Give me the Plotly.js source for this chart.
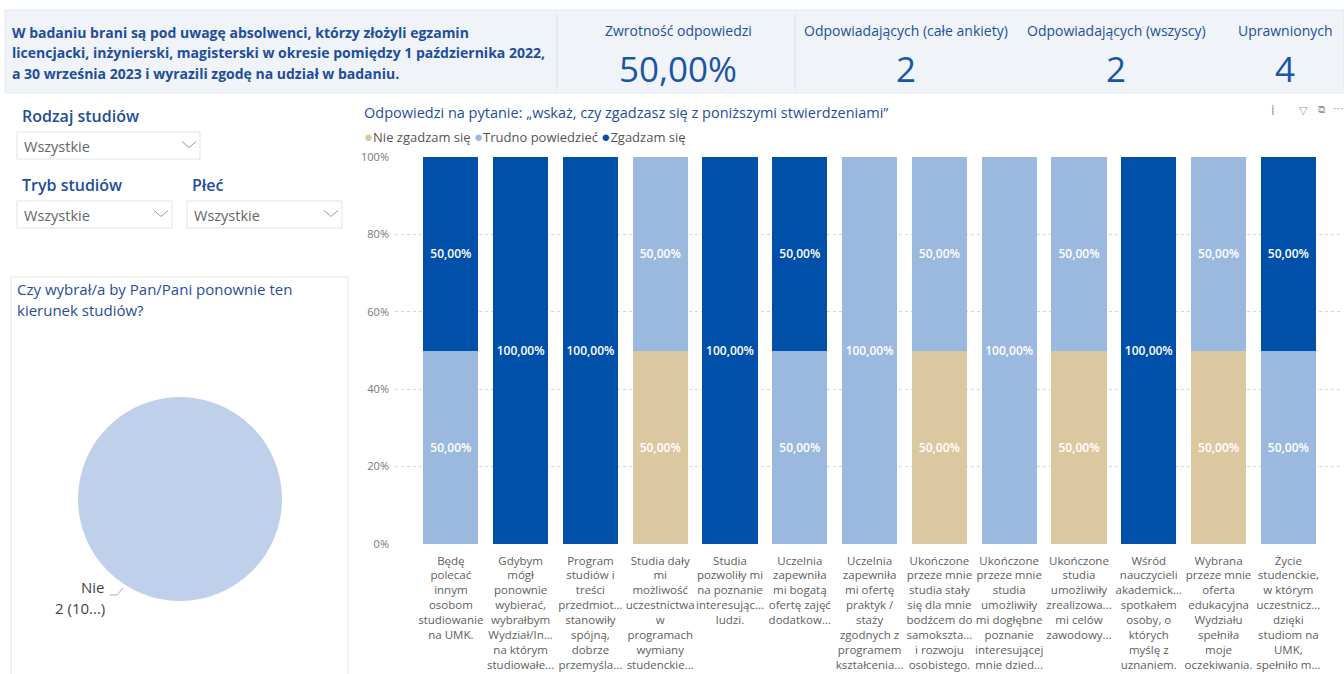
<!DOCTYPE html>
<html><head><meta charset="utf-8">
<script src="https://cdn.plot.ly/plotly-3.0.1.min.js"></script>
<style>html,body{margin:0;padding:0;background:#fff;overflow:hidden}#chart{width:1344px;height:674px;}</style>
</head><body><div id="chart"></div>
<script>
// ---- data ----
const categories = [
 "Będę\npolecać\ninnym\nosobom\nstudiowanie\nna UMK.",
 "Gdybym\nmógł\nponownie\nwybierać,\nwybrałbym\nWydział/In...\nna którym\nstudiowałe...",
 "Program\nstudiów i\ntreści\nprzedmiot...\nstanowiły\nspójną,\ndobrze\nprzemyśla...",
 "Studia dały\nmi\nmożliwość\nuczestnictwa\nw\nprogramach\nwymiany\nstudenckie...",
 "Studia\npozwoliły mi\nna poznanie\ninteresując...\nludzi.",
 "Uczelnia\nzapewniła\nmi bogatą\nofertę zajęć\ndodatkow...",
 "Uczelnia\nzapewniła\nmi ofertę\npraktyk /\nstaży\nzgodnych z\nprogramem\nkształcenia...",
 "Ukończone\nprzeze mnie\nstudia stały\nsię dla mnie\nbodźcem do\nsamokszta...\ni rozwoju\nosobistego.",
 "Ukończone\nprzeze mnie\nstudia\numożliwiły\nmi dogłębne\npoznanie\ninteresującej\nmnie dzied...",
 "Ukończone\nstudia\numożliwiły\nzrealizowa...\nmi celów\nzawodowy...",
 "Wśród\nnauczycieli\nakademick...\nspotkałem\nosoby, o\nktórych\nmyślę z\nuznaniem.",
 "Wybrana\nprzeze mnie\noferta\nedukacyjna\nWydziału\nspełniła\nmoje\noczekiwania.",
 "Życie\nstudenckie,\nw którym\nuczestnicz...\ndzięki\nstudiom na\nUMK,\nspełniło m..."
];
const seriesNames = ["Nie zgadzam się", "Trudno powiedzieć", "Zgadzam się"];
const nieZgadzam = [0, 0, 0, 50, 0, 0, 0, 50, 0, 50, 0, 50, 0];
const trudnoPowiedziec = [50, 0, 0, 50, 0, 50, 100, 50, 100, 50, 0, 50, 50];
const zgadzam = [50, 100, 100, 0, 100, 50, 0, 0, 0, 0, 100, 0, 50];
const seriesColors = ["#dcc8a0", "#9bb9de", "#0050a9"];
const yTickValues = [0, 20, 40, 60, 80, 100];
const yTickLabels = ["0%", "20%", "40%", "60%", "80%", "100%"];
const pieLabels = ["Nie"];
const pieValues = [2];
const pieColors = ["#bfd1ea"];
const kpiLabels = ["Zwrotność odpowiedzi", "Odpowiadających (całe ankiety)", "Odpowiadających (wszyscy)", "Uprawnionych"];
const kpiValues = ["50,00%", "2", "2", "4"];
const headerLines = [
 "W badaniu brani są pod uwagę absolwenci, którzy złożyli egzamin",
 "licencjacki, inżynierski, magisterski w okresie pomiędzy 1 października 2022,",
 "a 30 września 2023 i wyrazili zgodę na udział w badaniu."
];
const chartTitle = "Odpowiedzi na pytanie: „wskaż, czy zgadzasz się z poniższymi stwierdzeniami”";
const pieTitle = ["Czy wybrał/a by Pan/Pani ponownie ten", "kierunek studiów?"];
const slicerTitles = ["Rodzaj studiów", "Tryb studiów", "Płeć"];
const slicerValue = "Wszystkie";

// ---- helpers ----
const W = 1344, H = 674;
const FONT = "Open Sans, Noto Sans, sans-serif";
const BLUE = "#1f4e9c";
const fmt = v => v > 0 ? v.toFixed(2).replace('.', ',') + '%' : '';
const cats = categories.map(c => c.replace(/\n/g, '<br>'));
const seriesValues = [nieZgadzam, trudnoPowiedziec, zgadzam];

const traces = seriesValues.map((vals, i) => ({
  type: 'bar', x: cats, y: vals, name: seriesNames[i],
  marker: {color: seriesColors[i], line: {width: 0}},
  text: vals.map(fmt), textposition: 'inside', insidetextanchor: 'middle',
  textangle: 0, constraintext: 'none',
  textfont: {color: '#ffffff', size: 12, family: FONT, weight: 600},
  hoverinfo: 'skip', showlegend: false, xaxis: 'x', yaxis: 'y'
}));

// pie geometry (pixel box -> paper domain)
const pcx = 180, pcy = 499, pr = 102;
traces.push({
  type: 'pie', labels: pieLabels, values: pieValues, sort: false,
  marker: {colors: pieColors, line: {width: 0}}, textinfo: 'none',
  hoverinfo: 'skip', showlegend: false,
  domain: {x: [(pcx - pr) / W, (pcx + pr) / W], y: [1 - (pcy + pr) / H, 1 - (pcy - pr) / H]}
});
// overlay pixel axes holder
traces.push({type: 'scatter', x: [], y: [], xaxis: 'x2', yaxis: 'y2', showlegend: false, hoverinfo: 'skip'});

const shapes = [];
const ann = [];
const px = (o) => Object.assign({xref: 'x2', yref: 'y2', showarrow: false}, o);
const rect = (x0, y0, x1, y1, fill, line, lw) => shapes.push({type: 'rect', xref: 'x2', yref: 'y2', x0, y0, x1, y1, fillcolor: fill, line: {color: line || 'rgba(0,0,0,0)', width: lw || 0}, layer: 'below'});
const path = (p, color, w) => shapes.push({type: 'path', xref: 'x2', yref: 'y2', path: p, line: {color, width: w || 1}, layer: 'above'});

// header band
rect(5, 10, 1344, 93, '#f0f4f9', '#e3e9f1', 1);
path('M557,14 L557,90', '#d8dfe8', 1);
path('M795,14 L795,90', '#d8dfe8', 1);
const hy = [32, 52.5, 73];
headerLines.forEach((t, i) => ann.push(px({x: 10, y: hy[i], xanchor: 'left', yanchor: 'middle', text: '<b>' + t + '</b>', font: {family: FONT, size: 14, color: BLUE}})));
const kx = [678, 906, 1116, 1285];
kpiLabels.forEach((t, i) => {
  ann.push(px({x: kx[i], y: 30, xanchor: 'center', yanchor: 'middle', text: t, font: {family: FONT, size: 14, color: BLUE}}));
  ann.push(px({x: kx[i], y: 68, xanchor: 'center', yanchor: 'middle', text: kpiValues[i], font: {family: FONT, size: 35, color: '#1a55a6'}}));
});

// slicers
const slicerFont = {family: FONT, size: 16, color: BLUE, weight: 600};
ann.push(px({x: 20, y: 116, xanchor: 'left', yanchor: 'middle', text: slicerTitles[0], font: slicerFont}));
ann.push(px({x: 20, y: 185, xanchor: 'left', yanchor: 'middle', text: slicerTitles[1], font: slicerFont}));
ann.push(px({x: 190, y: 185, xanchor: 'left', yanchor: 'middle', text: slicerTitles[2], font: slicerFont}));
const boxes = [[17, 132, 200, 159], [17, 201, 172, 228], [187, 201, 342, 228]];
boxes.forEach(b => {
  rect(b[0], b[1], b[2], b[3], '#ffffff', '#e3e3e3', 1);
  ann.push(px({x: b[0] + 5, y: (b[1] + b[3]) / 2 + 1, xanchor: 'left', yanchor: 'middle', text: slicerValue, font: {family: FONT, size: 14.5, color: '#666666'}}));
  const cx = b[2] - 11, cy = (b[1] + b[3]) / 2 - 1;
  path(`M${cx - 7},${cy - 3} L${cx},${cy + 3} L${cx + 7},${cy - 3}`, '#9a9a9a', 1);
});

// pie panel
rect(11, 277, 348, 700, 'rgba(0,0,0,0)', '#e4e4e4', 1);
ann.push(px({x: 15, y: 289, xanchor: 'left', yanchor: 'middle', text: pieTitle[0], font: {family: FONT, size: 15, color: BLUE}}));
ann.push(px({x: 15, y: 310, xanchor: 'left', yanchor: 'middle', text: pieTitle[1], font: {family: FONT, size: 15, color: BLUE}}));
ann.push(px({x: 107, y: 587, xanchor: 'right', yanchor: 'middle', text: pieLabels[0], font: {family: FONT, size: 15, color: '#444444'}}));
ann.push(px({x: 107, y: 608, xanchor: 'right', yanchor: 'middle', text: pieValues[0] + ' (10...)', font: {family: FONT, size: 15, color: '#444444'}}));
path('M110,595 L117,595 L123,588', '#b0b0b0', 1);

// bar chart title / legend / icons
ann.push(px({x: 362, y: 112, xanchor: 'left', yanchor: 'middle', text: chartTitle, font: {family: FONT, size: 14.5, color: BLUE}}));
const legendText = seriesNames.map((n, i) => `<span style="color:${seriesColors[i]};font-size:15px">●</span>${n}`).join(' ');
ann.push(px({x: 362, y: 136, xanchor: 'left', yanchor: 'middle', text: legendText, font: {family: FONT, size: 13, color: '#555555'}}));
ann.push(px({x: 1273, y: 109, xanchor: 'center', yanchor: 'middle', text: 'i', font: {family: FONT, size: 14, color: '#7a9cc8'}}));
ann.push(px({x: 1303, y: 109, xanchor: 'center', yanchor: 'middle', text: '▽', font: {family: FONT, size: 11, color: '#999999'}}));
ann.push(px({x: 1321, y: 109, xanchor: 'center', yanchor: 'middle', text: '⧉', font: {family: 'DejaVu Sans', size: 10, color: '#999999'}}));
ann.push(px({x: 1338, y: 108, xanchor: 'center', yanchor: 'middle', text: '⋯', font: {family: 'DejaVu Sans', size: 11, color: '#999999'}}));

const layout = {
  width: W, height: H, margin: {l: 0, r: 0, t: 0, b: 0},
  paper_bgcolor: '#ffffff', plot_bgcolor: 'rgba(0,0,0,0)',
  barmode: 'stack', bargap: 0.21, showlegend: false,
  font: {family: FONT},
  xaxis: {domain: [395 / W, 1340 / W], range: [-0.8, 12.74], type: 'category', anchor: 'y',
    showgrid: false, zeroline: false, showline: false, ticks: '', fixedrange: true, tickangle: 0,
    ticklabelstandoff: 8,
    tickfont: {family: FONT, size: 11.5, color: '#605e5c'}},
  yaxis: {domain: [1 - 544 / H, 1 - 157 / H], range: [0, 100], anchor: 'x',
    tickvals: yTickValues, ticktext: yTickLabels, showgrid: true, gridcolor: '#d6d6d6', griddash: 'dot', gridwidth: 1,
    zeroline: false, showline: false, ticks: '', fixedrange: true, ticklabelstandoff: 5,
    tickfont: {family: FONT, size: 11, color: '#777777'}},
  xaxis2: {domain: [0, 1], range: [0, W], anchor: 'y2', visible: false, fixedrange: true},
  yaxis2: {domain: [0, 1], range: [H, 0], anchor: 'x2', visible: false, fixedrange: true},
  shapes: shapes, annotations: ann
};
Plotly.newPlot('chart', traces, layout, {displayModeBar: false, staticPlot: true});
</script></body></html>
